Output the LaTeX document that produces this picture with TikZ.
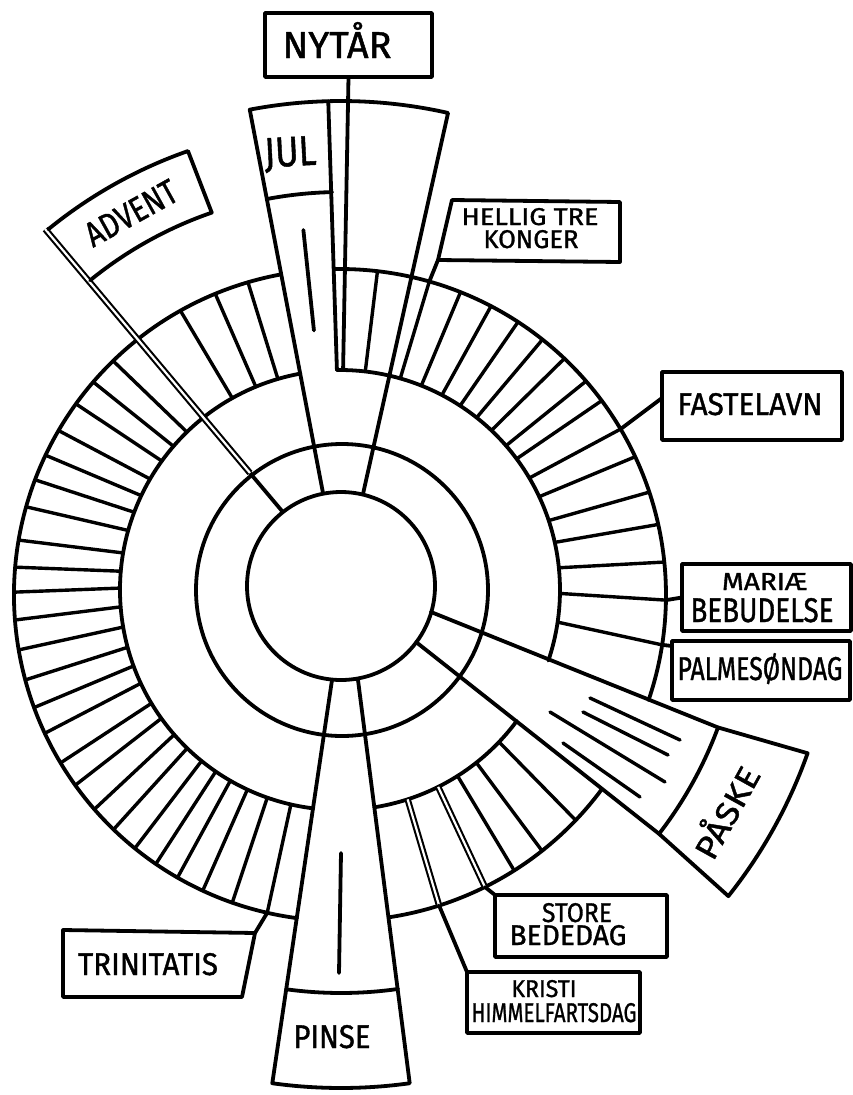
\documentclass[tikz,border=0pt]{standalone}
\usepackage{fontspec}
\usepackage{graphicx}
\setmainfont{Fira Sans}
\newfontfamily\lblfont{Fira Sans}[FakeBold=1.2]
\usetikzlibrary{calc}
\newcommand{\lblfit}[3]{\resizebox{#1pt}{#2pt}{\lblfont #3}}
\begin{document}
\begin{tikzpicture}[x=1pt,y=1pt,line cap=round,line join=round,
  ln/.style={line width=3.8pt},
  tk/.style={line width=3.4pt},
  dbl/.style={line width=2.1pt,double=white,double distance=2.2pt,line cap=butt},
  box/.style={draw,line width=3.8pt,inner sep=0pt,outer sep=0pt,rectangle},
  lbl/.style={inner sep=0pt,outer sep=0pt,anchor=base}]
\fill[white] (0,0) rectangle (853,-1095);
\useasboundingbox (0,0) rectangle (853,-1095);
\coordinate (C) at (341,-588);
\coordinate (C1) at (341,-586);
\coordinate (C2) at (342,-590);
\coordinate (C3) at (340,-590);
\coordinate (C4) at (340,-595);

% inner circles
\draw[ln] (C1) circle[radius=94];
\draw[ln] (C2) circle[radius=146];

% week ring arcs
\draw[ln] ($(C3)+(100.4:220)$) arc[start angle=100.4,end angle=263,radius=220];
\draw[ln] ($(C3)+(90.8:220)$) arc[start angle=90.8,end angle=-18.7,radius=220];
\draw[ln] ($(C3)+(-36.6:220)$) arc[start angle=-36.6,end angle=-81,radius=220];
\draw[ln] ($(C4)+(100.4:326)$) arc[start angle=100.4,end angle=262.4,radius=326];
\draw[ln] ($(C4)+(91.1:326)$) arc[start angle=91.1,end angle=-18.8,radius=326];
\draw[ln] ($(C4)+(-36.5:326)$) arc[start angle=-36.5,end angle=-81.4,radius=326];

% week ticks
\foreach \a in {106.4,112.5,119.3,134.1,139.2,144.1,149.7,154.6,159.3,164.3,170.3,175.1,179.5,184.4,189.7,195.1,200.2,205.1,211,215.7,221.1,226,231,235.6,240.1,245.1,250.7,83.4,68.3,62.4,56.9,51.6,46.5,41,36.6,25.1,18.4,12.5,5.8,-43.7,-51.7,-57.7}
  \draw[tk] ($(C3)+(\a:220)$) -- ($(C4)+(\a:326)$);
\coordinate (tT) at ($(C4)+(257.1:326)$);
\coordinate (tH) at ($(C4)+(74.1:326)$);
\coordinate (tF) at ($(C4)+(30.6:326)$);
\coordinate (tM) at ($(C4)+(-0.9:326)$);
\coordinate (tP) at ($(C4)+(-8.8:326)$);
\coordinate (tS) at ($(C4)+(-63.6:326)$);
\coordinate (tK) at ($(C4)+(-72.3:326)$);
\draw[tk] ($(C3)+(257.1:220)$) -- (tT);
\draw[tk] ($(C3)+(74.1:220)$) -- (tH);
\draw[tk] ($(C3)+(30.6:220)$) -- (tF);
\draw[tk] ($(C3)+(-0.9:220)$) -- (tM);
\draw[tk] ($(C3)+(-8.4:220)$) -- (tP);
\draw[dbl] ($(C3)+(-63.5:220)$) -- (tS);
\draw[dbl] ($(C3)+(-72.1:220)$) -- (tK);

% Jul sector
\coordinate (jl0) at (323,-493);
\coordinate (jl1) at ($(C)+(100.8:487)$);
\coordinate (jr0) at (363,-494);
\draw[ln] (jl0) -- (jl1) arc[start angle=100.8,end angle=77.3,radius=487] -- (jr0);
\coordinate (sl0) at ($(C3)+(90.8:220)$);
\coordinate (sl1) at ($(C)+(91.5:487)$);
\coordinate (sr0) at ($(C3)+(89.2:220)$);
\draw[ln] (sl0) -- (sl1);
\draw[ln] ($(C)+(100.7:396)$) arc[start angle=100.7,end angle=91.3,radius=396];
\draw[ln] ($(C)+(96:259)$) -- ($(C)+(96:360)$);

% Nytaar
\node[box,minimum width=167,minimum height=64] (nyb) at (348.5,-45) {};
\draw[ln] (nyb.south) -- (sr0);
\node[lbl] (nyt) at (337,-58) {\lblfit{109}{36}{NYTÅR}};
\node[lbl,rotate=3] (jul) at (291,-166) {\lblfit{52}{29}{JUL}};

% Advent
\coordinate (a0) at (282,-511);
\coordinate (a1) at (250,-473);
\coordinate (a2) at ($(C)+(129.5:465)$);
\draw[ln] (a0) -- (a1);
\draw[dbl] (a1) -- (a2);
\draw[ln] ($(C)+(129.2:463)$) arc[start angle=129.2,end angle=109.3,radius=463] -- ($(C)+(109:397)$) arc[start angle=109,end angle=129.2,radius=397];
\node[inner sep=0pt,rotate=29] (adv) at (131,-213) {\lblfit{100}{24}{ADVENT}};

% Hellig tre konger
\coordinate (h1) at (452,-200);
\coordinate (h2) at (620,-202);
\coordinate (h3) at (620,-262);
\coordinate (h4) at (438,-260);
\draw[ln] (h1) -- (h2) -- (h3) -- (h4) -- cycle;
\draw[ln] (h4) -- (tH);
\node[lbl] (hel1) at (530,-225) {\lblfit{137}{17}{HELLIG TRE}};
\node[lbl] (hel2) at (531,-248) {\lblfit{95}{18}{KONGER}};

% Fastelavn
\node[box,minimum width=180,minimum height=68] (fastb) at (752,-406) {};
\draw[ln] (tF) -- ($(fastb.west)+(0,8)$);
\node[lbl] (fast) at (750,-415) {\lblfit{145}{22}{FASTELAVN}};

% Mariae bebudelse
\node[box,minimum width=169,minimum height=67] (marb) at (766.5,-597.5) {};
\draw[ln] (tM) -- (marb.west);
\node[lbl] (mar1) at (765,-590) {\lblfit{86}{17}{MARIÆ}};
\node[lbl] (mar2) at (762,-622) {\lblfit{143}{24}{BEBUDELSE}};

% Palmesondag
\node[box,minimum width=178,minimum height=59] (palmb) at (761,-670.5) {};
\draw[ln] (tP) -- ($(palmb.north west)+(0,-5)$);
\node[lbl] (palm) at (760,-680) {\lblfit{165}{27}{PALMESØNDAG}};

% Paaske
\coordinate (p1) at (431,-612);
\coordinate (p2) at ($(C)+(-20.3:402)$);
\coordinate (p3) at ($(C)+(-19.5:495)$);
\coordinate (p5) at ($(C)+(-37.7:402)$);
\coordinate (p6) at (416,-642);
\draw[ln] (p1) -- (p2) -- (p3) arc[start angle=-19.5,end angle=-38.5,radius=495] -- (p5) -- (p6);
\draw[ln] (p2) arc[start angle=-20.3,end angle=-37.7,radius=402];
\draw[tk] (590,-698) -- (680,-740);
\draw[tk] (583,-712) -- (668,-755);
\draw[tk] (550,-712) -- (665,-782);
\draw[tk] (563,-743) -- (640,-797);
\node[inner sep=0pt,rotate=61] (pas) at (724,-811) {\lblfit{100}{31}{PÅSKE}};

% Store bededag
\node[box,minimum width=172,minimum height=62] (storeb) at (581,-926) {};
\draw[ln] (tS) -- (storeb.north west);
\node[lbl] (sto1) at (577,-922) {\lblfit{70}{19}{STORE}};
\node[lbl] (sto2) at (568,-945) {\lblfit{117}{20}{BEDEDAG}};

% Kristi himmelfartsdag
\node[box,minimum width=173,minimum height=61] (krib) at (553.5,-1002.5) {};
\draw[ln] (tK) -- (krib.north west);
\node[lbl] (kri1) at (544,-997) {\lblfit{65}{17}{KRISTI}};
\node[lbl] (kri2) at (554,-1022) {\lblfit{165}{19}{HIMMELFARTSDAG}};

% Pinse
\coordinate (q1) at (332,-680);
\coordinate (q2) at ($(C)+(-97.9:500)$);
\coordinate (q4) at (358,-680);
\draw[ln] (q1) -- (q2) arc[start angle=-97.9,end angle=-82.1,radius=500] -- (q4);
\draw[ln] ($(C)+(-97.8:405)$) arc[start angle=-97.8,end angle=-81.9,radius=405];
\draw[ln] (341,-853) -- (339,-973);
\node[lbl] (pin) at (332,-1048) {\lblfit{77}{23}{PINSE}};

% Trinitatis
\coordinate (r1) at (63,-930);
\coordinate (r2) at (255,-933);
\coordinate (r3) at (242,-997);
\coordinate (r4) at (63,-997);
\draw[ln] (r1) -- (r2) -- (r3) -- (r4) -- cycle;
\draw[ln] (r2) -- (tT);
\node[lbl] (tri) at (148,-975) {\lblfit{140}{22}{TRINITATIS}};
\end{tikzpicture}
\end{document}
